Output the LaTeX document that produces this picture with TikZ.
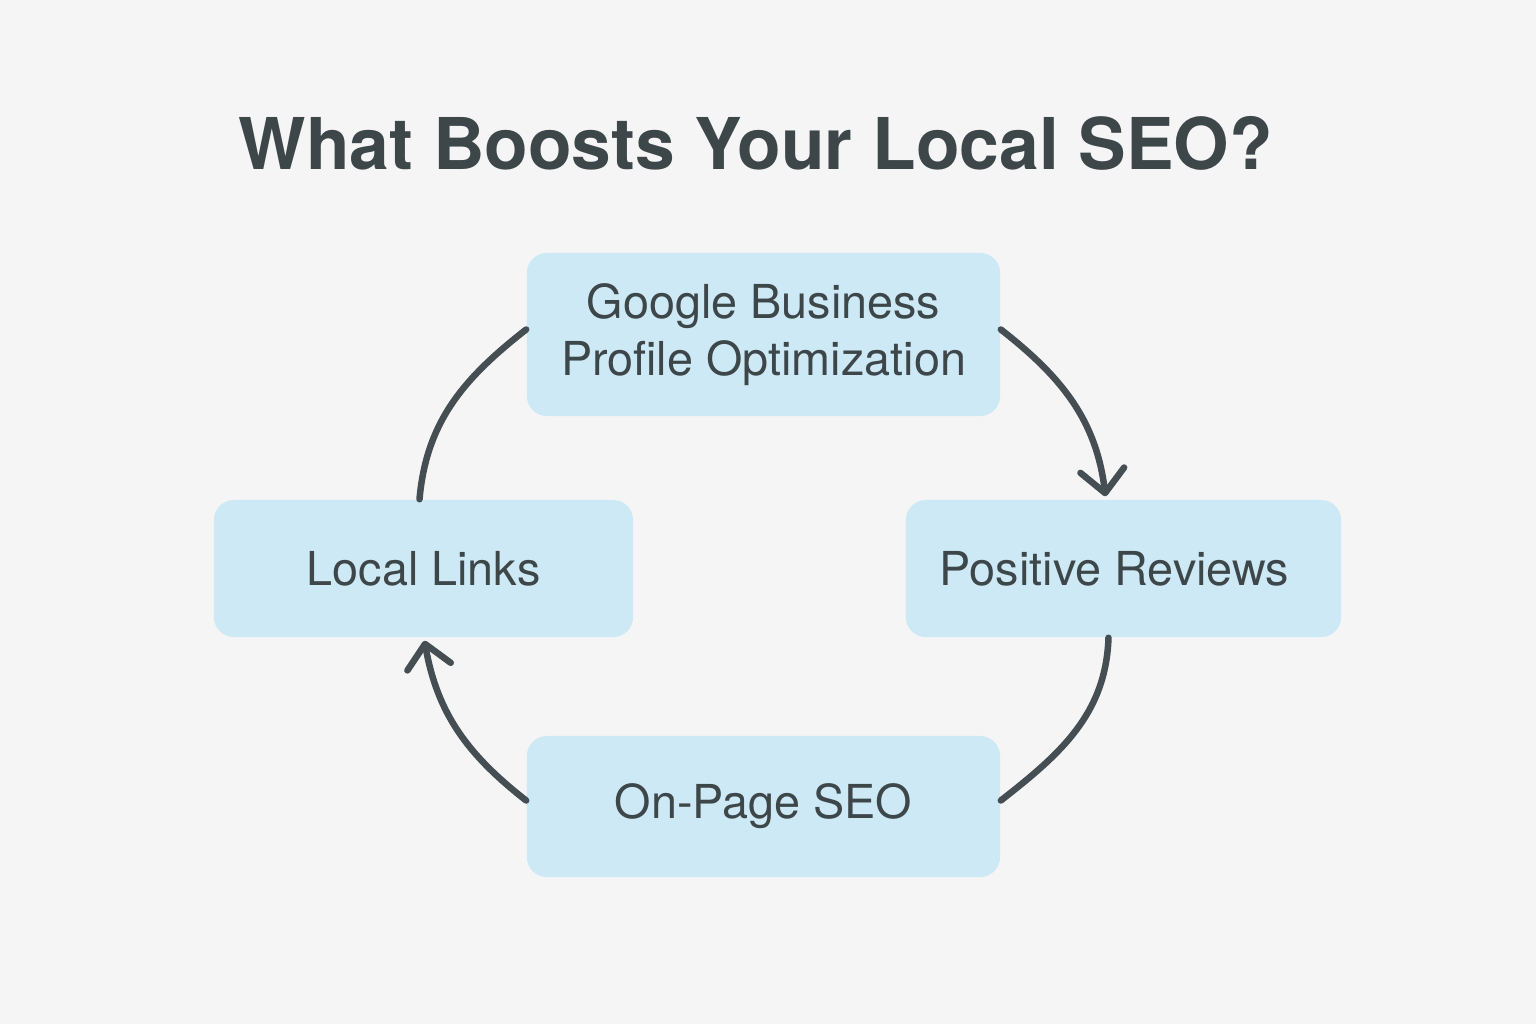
\documentclass[tikz,border=0pt]{standalone}
\usepackage{fontspec}
\setmainfont{TeX Gyre Heros}
\usetikzlibrary{arrows.meta}
\definecolor{bgcol}{HTML}{F5F5F5}
\definecolor{boxcol}{HTML}{CDE9F6}
\definecolor{inkcol}{HTML}{3D4649}
\definecolor{linecol}{HTML}{454E52}
\begin{document}
\begin{tikzpicture}[
    x=0.01cm, y=-0.01cm,
    text centered,
	stage/.style={
	  rectangle,
	  rounded corners=0.2cm,
	  fill=boxcol,
	  text=inkcol,
	  align=center,
	  font=\fontsize{13.3}{16.2}\selectfont
	},
 	line/.style={draw=linecol, line width=0.065cm, line cap=round},
 	tip/.style={-{Straight Barb[length=0.23cm, width=0.44cm, line width=0.065cm, round]}}
	]
	\path[fill=bgcol] (0, 0) rectangle (1536, 1024);
	\useasboundingbox (0, 0) rectangle (1536, 1024);
	\node [text=inkcol, font=\fontsize{20.3}{24}\selectfont\bfseries] at (756, 143) (title) {What Boosts Your Local SEO?};
	\node [stage, minimum width=4.73cm, minimum height=1.63cm] at (763.5, 334.5) (gbp) {Google Business\\Profile Optimization};
	\node [stage, minimum width=4.19cm, minimum height=1.37cm] at (423.5, 568.5) (links) {Local Links};
	\node [stage, minimum width=4.35cm, minimum height=1.37cm] at (1123.5, 568.5) (reviews) {Positive Reviews\kern0.18cm};
	\node [stage, minimum width=4.73cm, minimum height=1.41cm] at (763.5, 806.5) (onpage) {On-Page SEO};
	\path[line, tip] ([yshift=0.05cm]gbp.east) to[out=-38, in=97] ([xshift=-0.18cm, yshift=0.03cm]reviews.north);
	\path[line] ([xshift=-0.15cm]reviews.south) to[out=-92, in=38] ([yshift=0.06cm]onpage.east);
	\path[line, tip] ([yshift=0.06cm]onpage.west) to[out=142, in=-80] ([xshift=0.01cm, yshift=-0.03cm]links.south);
	\path[line] ([xshift=-0.04cm]links.north) to[out=85, in=-142] ([yshift=0.05cm]gbp.west);
  \end{tikzpicture}
\end{document}
